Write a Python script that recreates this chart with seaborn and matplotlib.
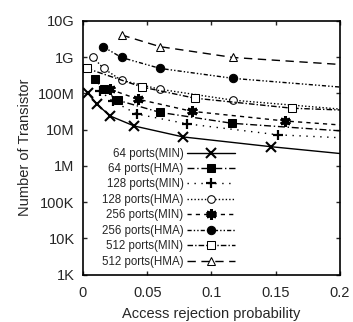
import matplotlib
matplotlib.use("Agg")
import matplotlib.pyplot as plt
import seaborn as sns
import pandas as pd

# x values (access rejection probability) and transistor counts per series
x_64_min = [0.004, 0.011, 0.021, 0.040, 0.078, 0.146, 0.200]
y_64_min = [1.0e8, 5.0e7, 2.4e7, 1.26e7, 6.3e6, 3.4e6, 2.2e6]

x_64_hma = [0.009, 0.016, 0.027, 0.060, 0.116, 0.200]
y_64_hma = [2.5e8, 1.3e8, 6.5e7, 3.0e7, 1.5e7, 9.3e6]

x_128_min = [0.013, 0.023, 0.042, 0.081, 0.152, 0.200]
y_128_min = [1.2e8, 6.2e7, 2.7e7, 1.45e7, 7.2e6, 6.0e6]

x_128_hma = [0.008, 0.016, 0.030, 0.060, 0.117, 0.200]
y_128_hma = [9.8e8, 4.9e8, 2.3e8, 1.3e8, 6.5e7, 3.7e7]

x_256_min = [0.021, 0.043, 0.085, 0.157, 0.200]
y_256_min = [1.3e8, 6.9e7, 3.2e7, 1.74e7, 1.35e7]

x_256_hma = [0.0156, 0.030, 0.060, 0.117, 0.200]
y_256_hma = [1.95e9, 9.8e8, 4.9e8, 2.6e8, 1.5e8]

x_512_min = [0.003, 0.046, 0.087, 0.163, 0.200]
y_512_min = [4.9e8, 1.5e8, 7.4e7, 3.9e7, 3.5e7]

x_512_hma = [0.030, 0.060, 0.117, 0.200]
y_512_hma = [4.1e9, 1.95e9, 9.8e8, 6.3e8]

labels = ["64 ports(MIN)", "64 ports(HMA)", "128 ports(MIN)", "128 ports(HMA)",
          "256 ports(MIN)", "256 ports(HMA)", "512 ports(MIN)", "512 ports(HMA)"]

xticks = [0, 0.05, 0.1, 0.15, 0.2]
xtick_labels = ["0", "0.05", "0.1", "0.15", "0.2"]
yticks = [1e3, 1e4, 1e5, 1e6, 1e7, 1e8, 1e9, 1e10]
ytick_labels = ["1K", "10K", "100K", "1M", "10M", "100M", "1G", "10G"]

sns.set_style("ticks")
plt.rcParams["font.family"] = ["Liberation Sans", "DejaVu Sans"]

fig = plt.figure(figsize=(3.53, 3.22), dpi=100)
ax = fig.add_axes([0.235, 0.147, 0.728, 0.788])

series = [
    (x_64_min, y_64_min, dict(marker="x", ms=6.5, mew=1.5, mfc="black", linestyle="-")),
    (x_64_hma, y_64_hma, dict(marker="s", ms=5.5, mfc="black", linestyle=(0, (5, 2, 1, 2)))),
    (x_128_min, y_128_min, dict(marker="+", ms=7.5, mew=1.6, linestyle=(0, (1, 4)))),
    (x_128_hma, y_128_hma, dict(marker="o", ms=5.5, mfc="white", linestyle=(0, (1, 1.5)))),
    (x_256_min, y_256_min, dict(marker=(6, 2, 0), ms=7.5, mew=2.2, linestyle=(0, (3, 3)))),
    (x_256_hma, y_256_hma, dict(marker="o", ms=6, mfc="black", linestyle=(0, (3, 1.5, 1, 1.5, 1, 1.5)))),
    (x_512_min, y_512_min, dict(marker="s", ms=6, mfc="white", linestyle=(0, (4, 1.5, 1, 1.5)))),
    (x_512_hma, y_512_hma, dict(marker="^", ms=5.5, mfc="white", linestyle=(0, (6, 4)))),
]

for (xs, ys, st), lab in zip(series, labels):
    df = pd.DataFrame({"x": xs, "y": ys})
    sns.lineplot(data=df, x="x", y="y", ax=ax, color="black", lw=1.0,
                 mec="black", label=lab, markevery=list(range(len(xs) - 1)), **st)

ax.set_yscale("log")
ax.set_xlim(0, 0.2)
ax.set_ylim(1e3, 1e10)
ax.set_xticks(xticks)
ax.set_xticklabels(xtick_labels)
ax.set_yticks(yticks)
ax.set_yticklabels(ytick_labels)
ax.minorticks_off()
ax.tick_params(axis="both", direction="in", top=True, right=True, labelsize=10.5, length=3, width=1)
ax.tick_params(axis="x", pad=8)
ax.tick_params(axis="y", pad=6)
for s in ax.spines.values():
    s.set_linewidth(1.2)
    s.set_color("black")

ax.set_xlabel("Access rejection probability", fontsize=10.5, labelpad=5)
ax.set_ylabel("Number of Transistor", fontsize=10.5, labelpad=4)

ax.legend(loc="lower right", bbox_to_anchor=(0.62, 0.0), frameon=False, fontsize=8.3,
          markerfirst=False, handlelength=4.2, labelspacing=0.3, borderaxespad=0.2,
          handletextpad=0.3)

fig.savefig("out.png", dpi=100)
